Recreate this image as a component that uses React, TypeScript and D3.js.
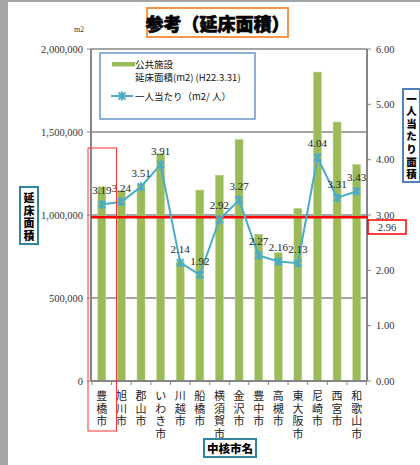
import React from "react";
import * as d3 from "d3";

const categories = ["豊橋市", "旭川市", "郡山市", "いわき市", "川越市", "船橋市", "横須賀市", "金沢市", "豊中市", "高槻市", "東大阪市", "尼崎市", "西宮市", "和歌山市"];
const floorArea = [1170000, 1146000, 1180000, 1370000, 719000, 1150000, 1240000, 1456000, 884000, 773000, 1040000, 1861000, 1560000, 1305000];
const perCapita = [3.19, 3.24, 3.51, 3.91, 2.14, 1.92, 2.92, 3.27, 2.27, 2.16, 2.13, 4.04, 3.31, 3.43];
const averageValue = 2.96;
const leftTicks = [0, 500000, 1000000, 1500000, 2000000];
const rightTicks = [0, 1, 2, 3, 4, 5, 6];

const W = 420, H = 465;
const X0 = 92, X1 = 366.5, YT = 49, YB = 381;
const GREEN = "#9BBB59";
const BLUE = "#4BACC6";
const GRAY = "#868686";
const SERIF = "Liberation Serif, DejaVu Serif, serif";
const CJK = "Noto Sans CJK JP, Noto Sans, sans-serif";

export default function App() {
  const x = d3.scaleBand<string>().domain(categories).range([X0, X1]);
  const yL = d3.scaleLinear().domain([0, 2000000]).range([YB, YT]);
  const yR = d3.scaleLinear().domain([0, 6]).range([YB, YT]);
  const fmtL = d3.format(",");
  const fmtR = d3.format(".2f");
  const bw = 8;
  const cx = (c: string) => (x(c) as number) + x.bandwidth() / 2;
  const line = d3.line<number>().x((_, i) => cx(categories[i])).y((d) => yR(d));
  const star = "M-3.5,-3.5L3.5,3.5M-3.5,3.5L3.5,-3.5M0,-4.5L0,4.5";

  const vText = (chars: string[], xc: number, y0: number, step: number, size: number, weight: number, fill: string) =>
    chars.map((ch, i) => (
      <text key={i} x={xc} y={y0 + i * step} textAnchor="middle" dominantBaseline="central"
        fontFamily={CJK} fontSize={size} fontWeight={weight} fill={fill}>{ch}</text>
    ));

  return (
    <svg width={W} height={H} style={{ position: "absolute", left: 0, top: 0, background: "#fff" }}>
      <rect x={0} y={0} width={W} height={H} fill="#fff" />
      <rect x={0} y={0} width={W} height={2} fill="#A6A6A6" />
      <rect x={0} y={0} width={8} height={H} fill="#A6A6A6" />

      {/* title */}
      <rect x={147} y={8} width={141} height={29} fill="#fff" stroke="#F79646" strokeWidth={2} />
      <text x={217.5} y={23} textAnchor="middle" dominantBaseline="central" fontFamily={CJK}
        fontSize={18} fontWeight={900} fill="#000" stroke="#000" strokeWidth={0.6}>参考（延床面積）</text>
      <text x={79} y={32} textAnchor="middle" fontFamily={SERIF} fontSize={8} fill="#333">m2</text>

      {/* gridlines */}
      {leftTicks.filter((t) => t > 0).map((t) => (
        <line key={t} x1={91} x2={367} y1={yL(t)} y2={yL(t)} stroke={GRAY} strokeWidth={1.5} />
      ))}

      {/* bars */}
      {floorArea.map((v, i) => (
        <rect key={i} x={cx(categories[i]) - bw / 2} y={yL(v)} width={bw} height={YB - yL(v)}
          fill={GREEN} stroke="#C3D69B" strokeWidth={0.5} />
      ))}

      {/* axes */}
      <line x1={91} x2={91} y1={YT} y2={YB} stroke={GRAY} strokeWidth={2} />
      <line x1={367} x2={367} y1={YT} y2={YB} stroke={GRAY} strokeWidth={2} />
      <line x1={91} x2={367} y1={YB} y2={YB} stroke={GRAY} strokeWidth={2} />
      {leftTicks.map((t) => (
        <g key={t}>
          <line x1={87} x2={91} y1={yL(t)} y2={yL(t)} stroke={GRAY} strokeWidth={1} />
          <text x={83} y={yL(t)} textAnchor="end" dominantBaseline="central" fontFamily={SERIF} fontSize={10.5} fill="#333">{fmtL(t)}</text>
        </g>
      ))}
      {rightTicks.map((t) => (
        <g key={t}>
          <line x1={367} x2={371} y1={yR(t)} y2={yR(t)} stroke={GRAY} strokeWidth={1} />
          <text x={376} y={yR(t)} textAnchor="start" dominantBaseline="central" fontFamily={SERIF} fontSize={10.5} fill="#333">{fmtR(t)}</text>
        </g>
      ))}
      {categories.map((c, i) => (
        <line key={"t" + i} x1={x(c) as number} x2={x(c) as number} y1={YB} y2={YB + 4} stroke={GRAY} strokeWidth={1} />
      ))}
      <line x1={X1} x2={X1} y1={YB} y2={YB + 4} stroke={GRAY} strokeWidth={1} />

      {/* category labels */}
      {categories.map((c, i) => (
        <g key={"c" + i}>{vText(Array.from(c), cx(c), 395, 12.6, 11, 400, "#222")}</g>
      ))}

      {/* average line */}
      <line x1={91} x2={368} y1={yR(averageValue)} y2={yR(averageValue)} stroke="#FF0000" strokeWidth={2.5} />
      <rect x={368} y={220} width={38} height={14} fill="#fff" stroke="#FF0000" strokeWidth={1.5} />
      <text x={387} y={227.5} textAnchor="middle" dominantBaseline="central" fontFamily={SERIF} fontSize={10.5} fill="#333">{fmtR(averageValue)}</text>

      {/* per-capita line */}
      <path d={line(perCapita) as string} fill="none" stroke={BLUE} strokeWidth={2} />
      {perCapita.map((v, i) => (
        <path key={i} d={star} transform={`translate(${cx(categories[i])},${yR(v)})`} fill="none" stroke={BLUE} strokeWidth={2} />
      ))}
      {perCapita.map((v, i) => (
        <text key={"l" + i} x={cx(categories[i])} y={yR(v) - 10} textAnchor="middle" fontFamily={SERIF} fontSize={11} fill="#222">{fmtR(v)}</text>
      ))}

      {/* highlight 豊橋 */}
      <rect x={88} y={148} width={28.5} height={283} fill="none" stroke="#FF3333" strokeWidth={1} />

      {/* legend */}
      <rect x={100} y={53} width={155} height={66} fill="#fff" stroke="#6A96CF" strokeWidth={1.5} />
      <rect x={112} y={62} width={23} height={4.5} fill={GREEN} />
      <text x={135} y={63.5} dominantBaseline="central" fontFamily={CJK} fontSize={9.5} fill="#111">公共施設</text>
      <text x={135} y={76.5} dominantBaseline="central" fontFamily={CJK} fontSize={9.5} fill="#111">延床面積(m2) (H22.3.31)</text>
      <line x1={111} x2={133} y1={96} y2={96} stroke={BLUE} strokeWidth={2} />
      <path d={star} transform="translate(122,96)" fill="none" stroke={BLUE} strokeWidth={2} />
      <text x={135} y={96} dominantBaseline="central" fontFamily={CJK} fontSize={9.5} fill="#111">一人当たり（m2/ 人）</text>

      {/* axis titles */}
      <rect x={20} y={187} width={18} height={57} fill="#fff" stroke="#31859C" strokeWidth={2} />
      {vText(Array.from("延床面積"), 29, 197, 12.5, 11, 900, "#000")}
      <rect x={403} y={89} width={17} height={93} fill="#fff" stroke="#4F81BD" strokeWidth={2} />
      {vText(Array.from("一人当たり面積"), 411.5, 98, 12.6, 10.5, 900, "#000")}
      <rect x={204} y={439} width={52} height={18} fill="#fff" stroke="#31859C" strokeWidth={2} />
      <text x={230} y={448} textAnchor="middle" dominantBaseline="central" fontFamily={CJK} fontSize={11.5} fontWeight={900} fill="#000">中核市名</text>
    </svg>
  );
}
